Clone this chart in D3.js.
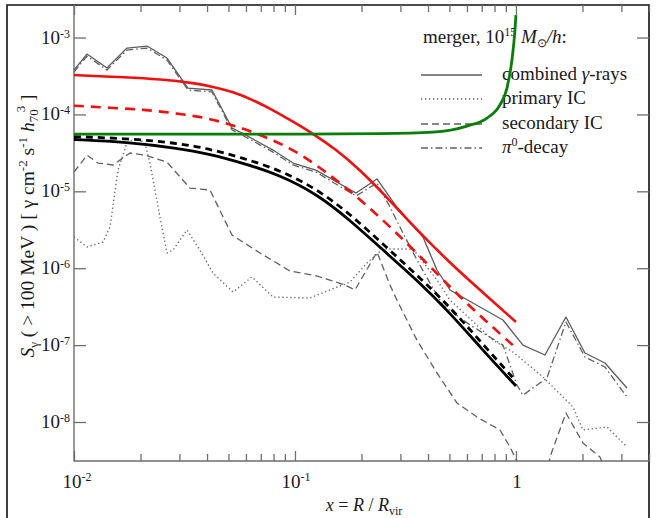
<!DOCTYPE html>
<html><head><meta charset="utf-8">
<script src="https://cdn.jsdelivr.net/npm/d3@7"></script>
<style>
html,body{margin:0;padding:0;background:#fff;}
svg{display:block;}
text{font-family:"Liberation Serif","Times New Roman",serif;fill:#1a1a1a;}
</style>
</head><body>
<svg id="chart" width="657" height="518"></svg>
<script>
// Gamma-ray surface brightness profiles of a merging 1e15 Msun/h cluster

// simulated profiles (gray)
const combinedX = [0.0100, 0.01145, 0.0141, 0.01737, 0.02139, 0.02635, 0.0328, 0.0421, 0.0519, 0.0576, 0.0795, 0.098, 0.1245, 0.1888, 0.235, 0.289, 0.3795, 0.439, 0.503, 0.687, 0.873, 1.076, 1.353, 1.684, 2.052, 2.527, 3.18];
const combinedY = [3.78e-4, 6.10e-4, 4.01e-4, 7.30e-4, 7.75e-4, 5.41e-4, 2.20e-4, 2.08e-4, 6.65e-5, 5.73e-5, 3.44e-5, 2.33e-5, 1.89e-5, 9.50e-6, 1.45e-5, 6.25e-6, 2.55e-6, 9.48e-7, 5.21e-7, 3.13e-7, 2.12e-7, 1.00e-7, 7.43e-8, 2.32e-7, 7.89e-8, 5.85e-8, 2.77e-8];

const pionX = [0.0100, 0.01145, 0.0141, 0.01737, 0.02139, 0.02635, 0.0328, 0.0421, 0.0519, 0.0576, 0.0795, 0.098, 0.1245, 0.1888, 0.235, 0.2691, 0.3081, 0.3565, 0.4083, 0.4674, 0.619, 0.8733, 1.0104, 1.0757, 1.381, 1.684, 2.052, 2.527, 3.18];
const pionY = [3.56e-4, 5.75e-4, 3.78e-4, 6.88e-4, 7.30e-4, 5.10e-4, 2.08e-4, 1.96e-4, 6.27e-5, 5.40e-5, 3.24e-5, 2.20e-5, 1.78e-5, 8.69e-6, 1.28e-5, 6.25e-6, 2.87e-6, 1.28e-6, 6.42e-7, 3.32e-7, 1.83e-7, 1.00e-7, 3.03e-8, 2.24e-8, 3.73e-8, 2.00e-7, 7.00e-8, 5.19e-8, 2.11e-8];

const primaryX = [0.0100, 0.01145, 0.01353, 0.01455, 0.01582, 0.01737, 0.01908, 0.02096, 0.02207, 0.02449, 0.02635, 0.02805, 0.03246, 0.03716, 0.04256, 0.05242, 0.06388, 0.07954, 0.1169, 0.1774, 0.2118, 0.2501, 0.3419, 0.439, 0.503, 0.7868, 0.9692, 1.325, 1.811, 2.010, 2.581, 3.05, 3.18];
const primaryY = [2.55e-6, 1.89e-6, 2.19e-6, 3.43e-6, 1.89e-5, 4.25e-5, 4.93e-5, 4.25e-5, 2.33e-5, 4.63e-6, 1.58e-6, 1.72e-6, 3.14e-6, 1.72e-6, 8.66e-7, 4.90e-7, 7.69e-7, 4.22e-7, 4.10e-7, 6.62e-7, 1.17e-6, 1.78e-6, 1.78e-6, 7.03e-7, 3.86e-7, 1.16e-7, 8.13e-8, 3.85e-8, 1.57e-8, 7.87e-9, 8.61e-9, 5.33e-9, 4.73e-9];

const secondaryX = [0.0100, 0.01145, 0.01284, 0.01501, 0.01792, 0.02096, 0.02635, 0.03349, 0.04124, 0.05187, 0.06944, 0.09493, 0.1258, 0.1683, 0.1868, 0.235, 0.2691, 0.2892, 0.3565, 0.439, 0.5408, 0.6662, 0.8465, 0.9395, 1.021, 1.157, 1.353, 1.425, 1.684, 2.010, 2.399, 2.805];
const secondaryY = [1.78e-5, 2.96e-5, 2.33e-5, 2.20e-5, 3.15e-5, 2.96e-5, 2.40e-5, 1.10e-5, 1.04e-5, 2.70e-6, 1.58e-6, 9.20e-7, 7.92e-7, 6.05e-7, 5.21e-7, 1.62e-6, 6.05e-7, 3.86e-7, 1.16e-7, 4.34e-8, 1.77e-8, 1.16e-8, 7.87e-9, 4.73e-9, 2.90e-9, 1.25e-9, 1.25e-9, 3.50e-9, 1.31e-8, 5.33e-9, 3.50e-9, 1.25e-9];

// analytic model profiles (coloured)
const redX = [0.01, 0.01737, 0.02449, 0.03455, 0.04256, 0.05242, 0.06457, 0.07954, 0.098, 0.1169, 0.1549, 0.1968, 0.2501, 0.3565, 0.503, 0.6872, 1.0];
const redY = [3.25e-4, 3.04e-4, 2.86e-4, 2.58e-4, 2.29e-4, 1.97e-4, 1.54e-4, 1.14e-4, 8.04e-5, 5.96e-5, 3.44e-5, 1.89e-5, 9.50e-6, 3.14e-6, 1.17e-6, 5.21e-7, 2.00e-7];

const redDashX = [0.01, 0.01455, 0.02052, 0.02924, 0.04124, 0.05817, 0.07954, 0.1053, 0.1440, 0.1908, 0.2501, 0.3212, 0.4083, 0.503, 0.619, 1.0];
const redDashY = [1.30e-4, 1.22e-4, 1.16e-4, 1.03e-4, 8.90e-5, 6.60e-5, 4.65e-5, 3.12e-5, 1.63e-5, 8.51e-6, 4.23e-6, 2.11e-6, 1.05e-6, 5.74e-7, 3.16e-7, 9.17e-8];

const blackX = [0.01, 0.01737, 0.02924, 0.04124, 0.05817, 0.0855, 0.1258, 0.1774, 0.2501, 0.3565, 0.503, 0.6872, 1.0];
const blackY = [4.72e-5, 4.38e-5, 3.66e-5, 3.05e-5, 2.33e-5, 1.63e-5, 9.22e-6, 4.23e-6, 1.72e-6, 7.03e-7, 2.62e-7, 9.45e-8, 2.94e-8];
const blackDashY = [5.16e-5, 4.86e-5, 4.25e-5, 3.55e-5, 2.71e-5, 1.89e-5, 1.07e-5, 5.07e-6, 2.06e-6, 8.16e-7, 3.13e-7, 1.13e-7, 3.41e-8];

const greenX = [0.01, 0.03716, 0.1053, 0.2424, 0.4211, 0.6003, 0.7393, 0.8465, 0.9106, 0.9592, 0.9896, 1.0];
const greenY = [5.56e-5, 5.56e-5, 5.56e-5, 5.64e-5, 5.90e-5, 7.06e-5, 8.98e-5, 1.33e-4, 2.20e-4, 5.10e-4, 1.25e-3, 1.96e-3];

// axis ticks
const xMajorTicks = [0.01, 0.1, 1];
const xMajorExp = ["-2", "-1", ""];
const xMinorTicks = [0.02,0.03,0.04,0.05,0.06,0.07,0.08,0.09,0.2,0.3,0.4,0.5,0.6,0.7,0.8,0.9,2,3,4];
const yMajorTicks = [1e-3, 1e-4, 1e-5, 1e-6, 1e-7, 1e-8];
const yMajorExp = ["-3", "-4", "-5", "-6", "-7", "-8"];

const legendLabels = ["combined", "primary IC", "secondary IC", "decay"];

const svg = d3.select("#chart");
const L = 74, R = 649, T = 5, B = 461;

const x = d3.scaleLog().domain([0.01, 4]).range([L, R]);
const y = d3.scaleLog().domain([3.11e-9, 2.65e-3]).range([B, T]);

// outer frame
svg.append("path").attr("d", `M7,518V5H${R}V518`).attr("fill", "none")
  .attr("stroke", "#111").attr("stroke-width", 1.6);

svg.append("clipPath").attr("id", "plotclip").append("rect")
  .attr("x", L).attr("y", T).attr("width", R - L).attr("height", B - T);

const axisColor = "#6e6e6e";
function styleAxis(g) {
  g.select(".domain").remove();
  g.selectAll("line").attr("stroke", axisColor).attr("stroke-width", 1.3);
  g.selectAll("text").remove();
}
svg.append("g").attr("transform", `translate(0,${B})`)
  .call(d3.axisBottom(x).tickValues(xMinorTicks).tickSize(-7).tickFormat(""))
  .call(styleAxis);
svg.append("g").attr("transform", `translate(0,${B})`)
  .call(d3.axisBottom(x).tickValues(xMajorTicks).tickSize(-10).tickFormat(""))
  .call(styleAxis);
svg.append("g").attr("transform", `translate(0,${T})`)
  .call(d3.axisTop(x).tickValues(xMinorTicks).tickSize(-7).tickFormat(""))
  .call(styleAxis);
svg.append("g").attr("transform", `translate(0,${T})`)
  .call(d3.axisTop(x).tickValues(xMajorTicks).tickSize(-10).tickFormat(""))
  .call(styleAxis);
svg.append("g").attr("transform", `translate(${L},0)`)
  .call(d3.axisLeft(y).tickValues(yMajorTicks).tickSize(-12).tickFormat(""))
  .call(styleAxis);
svg.append("g").attr("transform", `translate(${R},0)`)
  .call(d3.axisRight(y).tickValues(yMajorTicks).tickSize(-12).tickFormat(""))
  .call(styleAxis);

// plot box (left and bottom in gray)
svg.append("path").attr("d", `M${L},${T}V${B}H${R}`).attr("fill", "none")
  .attr("stroke", axisColor).attr("stroke-width", 1.4);

// tick labels
const fs = 19;
xMajorTicks.forEach((v, i) => {
  const t = svg.append("text").attr("x", x(v) + (i === 0 ? 3 : 1)).attr("y", 488)
    .attr("text-anchor", "middle").attr("font-size", fs);
  t.append("tspan").text(v === 1 ? "1" : "10");
  if (xMajorExp[i]) t.append("tspan").attr("dy", -7).attr("font-size", 12).text(xMajorExp[i]);
});
yMajorTicks.forEach((v, i) => {
  const t = svg.append("text").attr("x", 70).attr("y", y(v) + 6)
    .attr("text-anchor", "end").attr("font-size", fs);
  t.append("tspan").text("10");
  t.append("tspan").attr("dy", -6).attr("font-size", 12).text(yMajorExp[i]);
});

// axis titles
const xt = svg.append("text").attr("x", 364).attr("y", 511).attr("text-anchor", "middle").attr("font-size", 18);
xt.append("tspan").attr("font-style", "italic").text("x");
xt.append("tspan").text(" = ");
xt.append("tspan").attr("font-style", "italic").text("R");
xt.append("tspan").text(" / ");
xt.append("tspan").attr("font-style", "italic").text("R");
xt.append("tspan").attr("dy", 4).attr("font-size", 12).text("vir");

const yt = svg.append("text").attr("transform", "translate(34,226) rotate(-90)")
  .attr("text-anchor", "middle").attr("font-size", 19.5);
yt.append("tspan").attr("font-style", "italic").text("S");
yt.append("tspan").attr("dy", 4).attr("font-size", 13).text("γ");
yt.append("tspan").attr("dy", -4).text(" ( > 100 MeV ) [ γ cm");
yt.append("tspan").attr("dy", -7).attr("font-size", 13).text("-2");
yt.append("tspan").attr("dy", 7).text(" s");
yt.append("tspan").attr("dy", -7).attr("font-size", 13).text("-1");
yt.append("tspan").attr("dy", 7).text(" ");
yt.append("tspan").attr("font-style", "italic").text("h");
yt.append("tspan").attr("dy", 4).attr("font-size", 13).text("70");
yt.append("tspan").attr("dy", -13).attr("dx", -3).attr("font-size", 13).text("3");
yt.append("tspan").attr("dy", 9).text(" ]");

// legend
const lg = svg.append("g");
const title = lg.append("text").attr("x", 423).attr("y", 43).attr("font-size", fs);
title.append("tspan").text("merger, 10");
title.append("tspan").attr("dy", -7).attr("font-size", 12).text("15");
title.append("tspan").attr("dy", 7).text(" ");
title.append("tspan").attr("font-style", "italic").text("M");
title.append("tspan").attr("dy", 4).attr("font-size", 12).text("⊙");
title.append("tspan").attr("dy", -4).attr("font-style", "italic").text("/h");
title.append("tspan").text(":");

const grayStyles = [
  {dash: null, color: "#5c5c5c", w: 1.3},
  {dash: "1.3,2.7", color: "#6a6a6a", w: 1.4},
  {dash: "7,4", color: "#606060", w: 1.3},
  {dash: "7,3,1.5,3", color: "#606060", w: 1.3}
];
const rowY = [75, 99, 124, 148];
grayStyles.forEach((s, i) => {
  lg.append("line").attr("x1", 421).attr("x2", 482).attr("y1", rowY[i]).attr("y2", rowY[i])
    .attr("stroke", s.color).attr("stroke-width", s.w).attr("stroke-dasharray", s.dash);
  const t = lg.append("text").attr("x", 502).attr("y", rowY[i] + 5).attr("font-size", fs);
  if (i === 0) {
    t.append("tspan").text("combined ");
    t.append("tspan").attr("font-style", "italic").text("γ");
    t.append("tspan").text("-rays");
  } else if (i === 3) {
    t.append("tspan").attr("font-style", "italic").text("π");
    t.append("tspan").attr("dy", -7).attr("font-size", 12).text("0");
    t.append("tspan").attr("dy", 7).text("-decay");
  } else {
    t.text(legendLabels[i]);
  }
});

// curves
const plot = svg.append("g").attr("clip-path", "url(#plotclip)");
function zip(xs, ys) { return xs.map((v, i) => [v, ys[i]]); }
const lin = d3.line().x(d => x(d[0])).y(d => y(d[1]));
const smooth = d3.line().x(d => x(d[0])).y(d => y(d[1])).curve(d3.curveBasis);
const steep = d3.line().x(d => x(d[0])).y(d => y(d[1])).curve(d3.curveMonotoneX);

const grayData = [
  zip(combinedX, combinedY),
  zip(primaryX, primaryY),
  zip(secondaryX, secondaryY),
  zip(pionX, pionY)
];
[1, 2, 0, 3].forEach(i => {
  const s = grayStyles[i];
  plot.append("path").attr("d", lin(grayData[i])).attr("fill", "none")
    .attr("stroke", s.color).attr("stroke-width", s.w).attr("stroke-dasharray", s.dash)
    .attr("stroke-linejoin", "round");
});

const models = [
  {d: zip(redX, redY), c: "#f01010", w: 2.6, dash: null, gen: smooth},
  {d: zip(redDashX, redDashY), c: "#f01010", w: 2.6, dash: "10,7", gen: smooth},
  {d: zip(blackX, blackY), c: "#000", w: 2.8, dash: null, gen: smooth},
  {d: zip(blackX, blackDashY), c: "#000", w: 2.8, dash: "7,5", gen: smooth},
  {d: zip(greenX, greenY), c: "#0b7d0b", w: 2.8, dash: null, gen: steep}
];
models.forEach(m => {
  svg.append("path").attr("d", m.gen(m.d)).attr("fill", "none")
    .attr("stroke", m.c).attr("stroke-width", m.w).attr("stroke-dasharray", m.dash);
});
</script>
</body></html>
